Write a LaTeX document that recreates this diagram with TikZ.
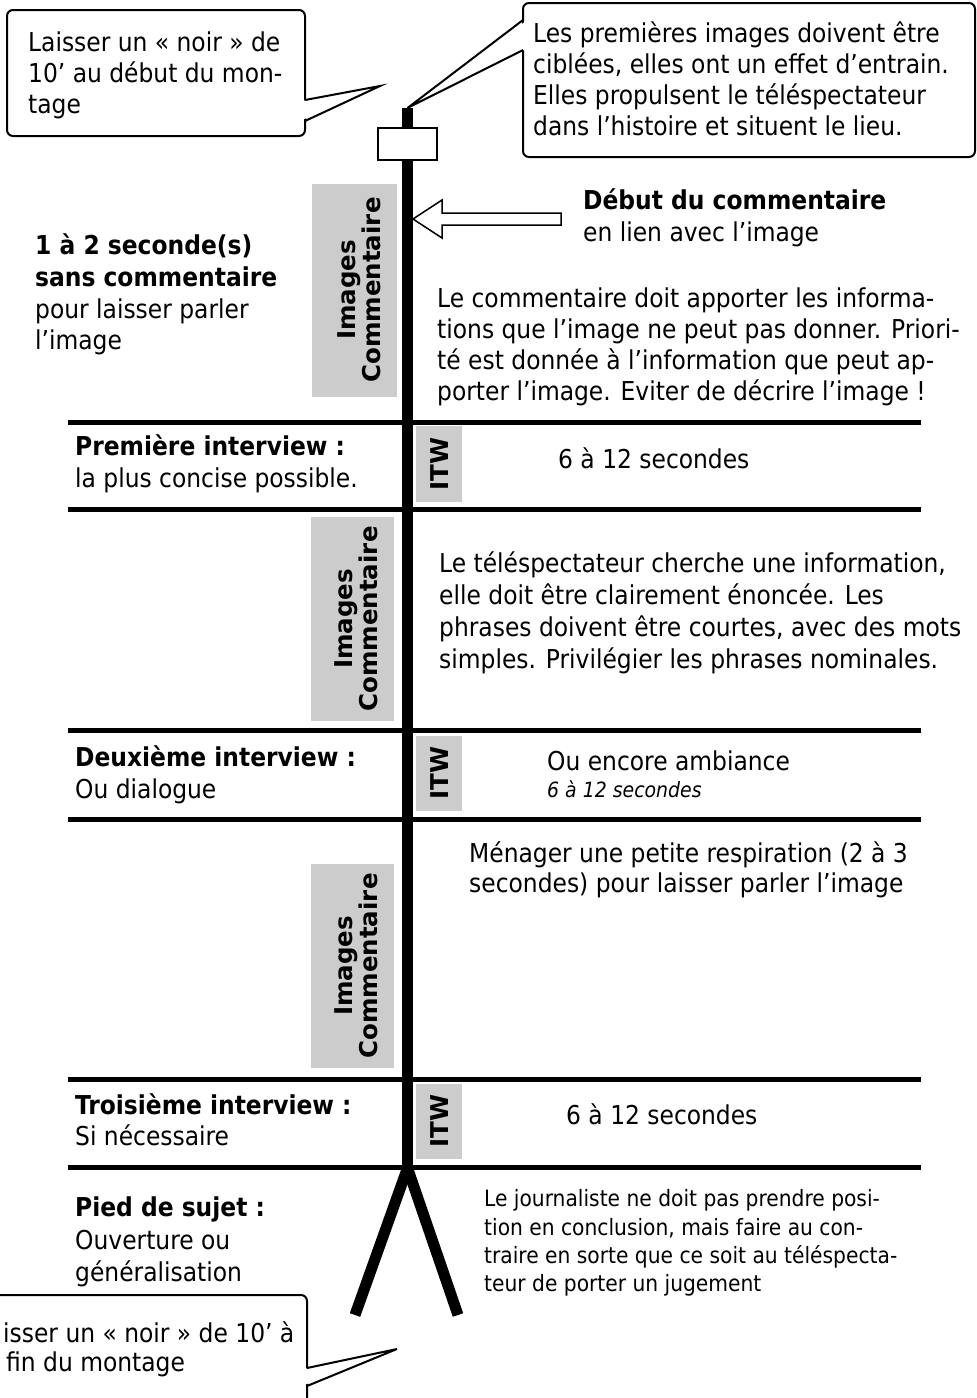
\documentclass[tikz,border=0pt]{standalone}
\usepackage{fontspec}
\setmainfont{DejaVu Sans Condensed}
\newfontfamily\boxfont{DejaVu Sans}
\definecolor{boxgray}{RGB}{204,204,204}
\begin{document}
\begin{tikzpicture}[x=1pt,y=-1pt,
  txt/.style={anchor=base west,inner sep=0pt,font=\fontsize{26}{31}\selectfont},
  btxt/.style={anchor=base west,inner sep=0pt,font=\fontsize{26}{31}\selectfont\bfseries},
  stxt/.style={anchor=base west,inner sep=0pt,font=\fontsize{22.5}{28}\selectfont},
  itxt/.style={anchor=base west,inner sep=0pt,font=\fontsize{21}{26}\selectfont\itshape},
  callout/.style={draw,line width=2pt,rounded corners=6pt,fill=white},
  ptr/.style={line width=2pt,line join=miter},
  graybox/.style={fill=boxgray,draw=none},
  vlab/.style={rotate=90,align=center,inner sep=0pt,font=\boxfont\bfseries\fontsize{24.5}{25}\selectfont},
  bar/.style={line width=5pt},
  pole/.style={line width=11pt},
]
\useasboundingbox (0,0) rectangle (977,1398);
\clip (0,0) rectangle (977,1398);

% gray boxes
\fill[graybox] (312,184) rectangle (397,397);
\node[vlab] (g1) at (359,290) {Images\\Commentaire};
\fill[graybox] (311,517) rectangle (394,721);
\node[vlab] (g2) at (356,619) {Images\\Commentaire};
\fill[graybox] (311,864) rectangle (394,1068);
\node[vlab] (g3) at (356,966) {Images\\Commentaire};
\fill[graybox] (416,426) rectangle (462,502);
\node[vlab] (i1) at (440,464) {ITW};
\fill[graybox] (416,736) rectangle (462,811);
\node[vlab] (i2) at (440,773) {ITW};
\fill[graybox] (416,1084) rectangle (462,1159);
\node[vlab] (i3) at (440,1121) {ITW};

% horizontal bars
\foreach \yy in {422,509,730,819,1079,1167} {\draw[bar] (68,\yy) -- (921,\yy);}

% pole and legs
\coordinate (top) at (407.5,108);
\coordinate (foot) at (407.5,1168);
\coordinate (legL) at (355,1315);
\coordinate (legR) at (458,1315);
\draw[pole] (top) -- (foot);
\draw[pole] (foot) -- (legL);
\draw[pole] (foot) -- (legR);
\draw[line width=2pt,fill=white] (378,128) rectangle (437,160);

% hollow arrow
\draw[line width=1.5pt,fill=white,line join=miter] (413,219) -- (442,200) -- (442,213) -- (561,213) -- (561,225) -- (442,225) -- (442,238) -- cycle;

% top-left callout
\draw[callout] (7,10) rectangle (305,136);
\coordinate (tlA) at (305,100);
\coordinate (tlB) at (305,121);
\coordinate (tlTip) at (380,86);
\fill[white] (302,101) -- (tlTip) -- (302,120) -- cycle;
\draw[ptr] (tlA) -- (tlTip) -- (tlB);
\node[txt] (c1a) at (28,51) {Laisser un « noir » de};
\node[txt] (c1b) at (28,82) {10’ au début du mon-};
\node[txt] (c1c) at (28,113) {tage};

% top-right callout
\draw[callout] (523,3) rectangle (975,157);
\coordinate (trA) at (523,20);
\coordinate (trB) at (523,50);
\fill[white] (526,21) -- (top) -- (526,49) -- cycle;
\draw[ptr] (trA) -- (top) -- (trB);
\node[txt] (c2a) at (533,42) {Les premières images doivent être};
\node[txt] (c2b) at (533,73) {ciblées, elles ont un effet d’entrain.};
\node[txt] (c2c) at (533,104) {Elles propulsent le téléspectateur};
\node[txt] (c2d) at (533,135) {dans l’histoire et situent le lieu.};

% first images section
\node[btxt] (d1) at (583,209) {Début du commentaire};
\node[txt] (d2) at (583,241) {en lien avec l’image};
\node[btxt] (s1) at (35,254) {1 à 2 seconde(s)};
\node[btxt] (s2) at (35,286) {sans commentaire};
\node[txt] (s3) at (35,318) {pour laisser parler};
\node[txt] (s4) at (35,349) {l’image};
\node[txt] (p1a) at (437,307) {Le commentaire doit apporter les informa-};
\node[txt] (p1b) at (437,338) {tions que l’image ne peut pas donner. Priori-};
\node[txt] (p1c) at (437,369) {té est donnée à l’information que peut ap-};
\node[txt] (p1d) at (437,400) {porter l’image. Eviter de décrire l’image !};

% first interview
\node[btxt] (r1a) at (75,455) {Première interview :};
\node[txt] (r1b) at (75,487) {la plus concise possible.};
\node[txt] (r1c) at (558,468) {6 à 12 secondes};

% second images section
\node[txt] (p2a) at (439,572) {Le téléspectateur cherche une information,};
\node[txt] (p2b) at (439,604) {elle doit être clairement énoncée. Les};
\node[txt] (p2c) at (439,636) {phrases doivent être courtes, avec des mots};
\node[txt] (p2d) at (439,668) {simples. Privilégier les phrases nominales.};

% second interview
\node[btxt] (r2a) at (75,766) {Deuxième interview :};
\node[txt] (r2b) at (75,798) {Ou dialogue};
\node[txt] (r2c) at (547,770) {Ou encore ambiance};
\node[itxt] (r2d) at (547,797) {6 à 12 secondes};

% third images section
\node[txt] (p3a) at (469,862) {Ménager une petite respiration (2 à 3};
\node[txt] (p3b) at (469,892) {secondes) pour laisser parler l’image};

% third interview
\node[btxt] (r3a) at (75,1114) {Troisième interview :};
\node[txt] (r3b) at (75,1145) {Si nécessaire};
\node[txt] (r3c) at (566,1124) {6 à 12 secondes};

% foot
\node[btxt] (f1) at (75,1216) {Pied de sujet :};
\node[txt] (f2) at (75,1249) {Ouverture ou};
\node[txt] (f3) at (75,1281) {généralisation};
\node[stxt] (q1) at (484,1206) {Le journaliste ne doit pas prendre posi-};
\node[stxt] (q2) at (484,1235) {tion en conclusion, mais faire au con-};
\node[stxt] (q3) at (484,1263) {traire en sorte que ce soit au téléspecta-};
\node[stxt] (q4) at (484,1291) {teur de porter un jugement};

% bottom callout
\draw[callout] (-20,1295) rectangle (307,1410);
\coordinate (blA) at (307,1368);
\coordinate (blB) at (307,1386);
\coordinate (blTip) at (397,1349);
\fill[white] (304,1369) -- (blTip) -- (304,1385) -- cycle;
\draw[ptr] (blA) -- (blTip) -- (blB);
\node[txt] (b1) at (3,1342) {isser un « noir » de 10’ à};
\node[txt] (b2) at (6,1371) {fin du montage};
\end{tikzpicture}
\end{document}
